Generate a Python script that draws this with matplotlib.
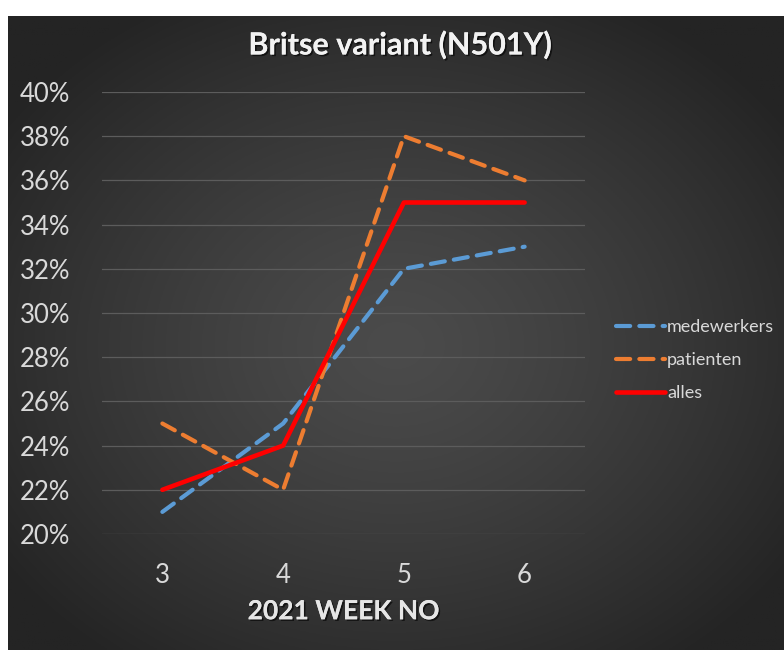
import numpy as np
import matplotlib
matplotlib.use("Agg")
import matplotlib.pyplot as plt
import matplotlib.patheffects as pe

# data
weeks = ["3", "4", "5", "6"]
medewerkers = [0.21, 0.25, 0.32, 0.33]
patienten = [0.25, 0.22, 0.38, 0.36]
alles = [0.22, 0.24, 0.35, 0.35]
y_ticks = [0.20, 0.22, 0.24, 0.26, 0.28, 0.30, 0.32, 0.34, 0.36, 0.38, 0.40]

plt.rcParams['font.family'] = ['Lato', 'DejaVu Sans']

W, H = 784, 650
fig = plt.figure(figsize=(W / 100, H / 100), dpi=100, facecolor="white")

# dark radial gradient background (chart area box)
bg = fig.add_axes([0, 0, 1, 1], zorder=0)
bg.set_axis_off()
x0, y0 = 8 / W, 0.0
x1, y1 = 1.0, 1 - 16 / H
gx, gy = np.meshgrid(np.linspace(0, 1, 400), np.linspace(0, 1, 330))
r = np.sqrt(((gx - 0.5) / 0.62) ** 2 + ((gy - 0.52) / 0.62) ** 2)
r = np.clip(r, 0, 1)
val = (0x4b - (0x4b - 0x24) * r ** 1.3) / 255.0
img = np.dstack([val, val, val])
bg.imshow(img, extent=[x0, x1, y0, y1], aspect="auto", origin="upper",
          transform=fig.transFigure)
bg.set_xlim(0, 1)
bg.set_ylim(0, 1)

ax = fig.add_axes([102 / W, 1 - 534 / H, 483 / W, 442 / H], zorder=1)
ax.set_facecolor("none")
for s in ax.spines.values():
    s.set_visible(False)

x = np.arange(len(weeks))
ax.plot(x, medewerkers, color="#5B9BD5", lw=3.0, ls=(0, (3.4, 2.2)),
        dash_capstyle="round", solid_joinstyle="round", label="medewerkers",
        clip_on=False, zorder=3)
ax.plot(x, patienten, color="#ED7D31", lw=3.0, ls=(0, (3.4, 2.2)),
        dash_capstyle="round", solid_joinstyle="round", label="patienten",
        clip_on=False, zorder=3)
ax.plot(x, alles, color="#FF0000", lw=3.3, solid_capstyle="round",
        solid_joinstyle="round", label="alles", clip_on=False, zorder=4)

ax.set_xlim(-0.5, len(weeks) - 0.5)
ax.set_ylim(0.20, 0.40)
ax.set_yticks(y_ticks)
ax.set_yticklabels([f"{int(round(v * 100))}%" for v in y_ticks])
ax.set_xticks(x)
ax.set_xticklabels(weeks)
ax.grid(axis="y", color="#5c5c5c", lw=0.9)
ax.tick_params(axis="both", length=0, colors="#d9d9d9", labelsize=18.5)
ax.tick_params(axis="y", pad=59)
ax.tick_params(axis="x", pad=21)
for lab in ax.get_yticklabels():
    lab.set_ha("left")

shadow = [pe.withSimplePatchShadow(offset=(1.2, -1.2), shadow_rgbFace="black", alpha=0.6), pe.Normal()]

ax.set_xlabel("2021 WEEK NO", color="#e6e6e6", fontsize=19, fontweight="bold",
              labelpad=8, path_effects=shadow)
fig.text(400 / W, 1 - 45 / H, "Britse variant (N501Y)", color="#f2f2f2",
         fontsize=22, fontweight="bold", ha="center", va="center",
         path_effects=shadow, zorder=5)

leg = fig.legend(loc="center left", bbox_to_anchor=(600 / W, 1 - 360 / H),
                 frameon=False, fontsize=13, handlelength=2.7,
                 handletextpad=0.12, labelspacing=0.95)
for t in leg.get_texts():
    t.set_color("#d9d9d9")

fig.savefig("out.png", dpi=100, facecolor="white")
